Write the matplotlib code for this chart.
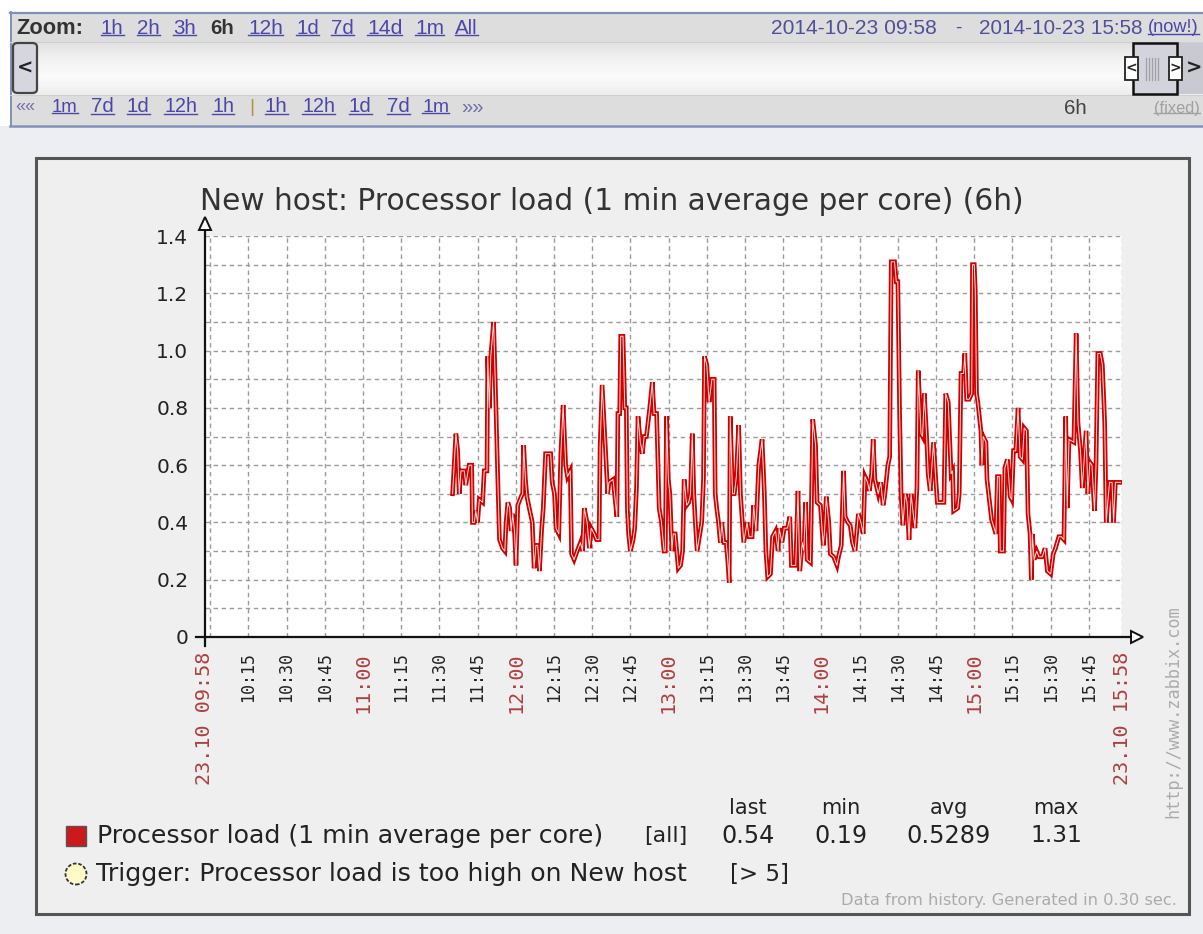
import matplotlib
matplotlib.use('Agg')
import matplotlib.pyplot as plt
from matplotlib.patches import Rectangle, Polygon, Ellipse, FancyBboxPatch
from matplotlib.lines import Line2D
import numpy as np

# ---------------- data ----------------
title = "New host: Processor load (1 min average per core) (6h)"
start_label = "23.10 09:58"
end_label = "23.10 15:58"
start_clock = (9, 58)
period_minutes = 360

# minutes after 09:58 and processor load values
minutes = [97.2, 98.5, 99.2, 99.8, 100.5, 101.8, 102.4, 103.1, 103.7, 104.7, 105.0, 105.7,
           106.3, 107.0, 107.7, 109.0, 109.6, 110.7, 111.0, 111.6, 112.2, 113.3, 114.2, 114.8,
           115.6, 116.8, 117.7, 118.2, 118.9, 119.6, 120.2, 120.8, 121.5, 122.1, 122.8, 124.1,
           124.7, 125.1, 125.8, 126.4, 127.3, 128.5, 129.2, 129.9, 130.6, 131.3, 132.2, 132.8,
           133.7, 135.7, 136.3, 137.2, 137.8, 138.9, 139.7, 140.6, 141.6, 142.3, 143.4, 143.9,
           144.9, 146.1, 147.4, 148.2, 148.9, 150.0, 150.9, 151.6, 152.8, 153.7, 154.7, 155.1,
           155.9, 157.2, 158.1, 158.6, 160.2, 161.7, 162.1, 162.8, 163.2, 164.1, 164.8, 165.4,
           165.8, 166.3, 167.0, 168.1, 168.7, 169.4, 170.0, 170.9, 171.7, 172.4, 173.3, 174.6,
           175.6, 176.3, 177.3, 177.9, 178.3, 179.2, 180.2, 180.7, 181.2, 181.9, 182.5, 183.3,
           183.8, 184.6, 185.2, 185.8, 186.7, 187.5, 188.1, 189.1, 189.9, 190.6, 191.3, 191.9,
           192.5, 193.2, 194.1, 195.0, 195.7, 196.1, 197.0, 197.9, 199.0, 199.9, 200.3, 200.9,
           201.6, 202.3, 202.9, 203.7, 204.6, 205.2, 205.8, 206.2, 207.1, 207.8, 208.6, 209.5,
           210.2, 211.5, 212.8, 213.6, 214.8, 215.4, 216.3, 217.4, 218.7, 219.6, 220.2, 220.9,
           222.0, 222.8, 224.0, 225.0, 225.4, 226.5, 227.4, 228.7, 229.6, 230.2, 231.9, 232.8,
           233.5, 234.5, 235.1, 235.8, 236.4, 237.7, 238.6, 239.7, 240.3, 241.6, 242.7, 243.3,
           243.9, 244.9, 245.5, 246.8, 248.1, 248.7, 249.8, 250.7, 251.3, 252.4, 253.3, 254.2,
           255.2, 255.8, 256.5, 257.5, 258.4, 259.1, 260.1, 260.8, 261.7, 262.3, 263.0, 264.3,
           265.3, 266.2, 266.8, 267.5, 268.1, 268.8, 269.4, 270.7, 271.4, 272.0, 272.7, 273.3,
           274.0, 274.9, 275.6, 276.4, 277.2, 277.8, 278.7, 279.5, 280.0, 281.1, 281.7, 282.4,
           283.3, 283.9, 284.7, 286.0, 286.9, 287.5, 288.8, 290.1, 290.8, 291.8, 292.9, 293.5,
           293.9, 295.5, 296.1, 296.8, 297.8, 298.3, 299.0, 300.0, 301.0, 301.3, 302.0, 302.4,
           302.9, 303.4, 304.6, 305.0, 305.5, 306.6, 307.0, 307.9, 308.8, 309.8, 310.5, 311.1,
           311.8, 312.2, 313.5, 314.0, 315.0, 316.1, 316.7, 317.4, 318.3, 319.2, 320.0, 320.9,
           321.6, 322.5, 323.1, 323.9, 324.4, 324.8, 325.5, 326.5, 327.4, 328.7, 329.8, 330.7,
           332.0, 333.0, 333.9, 335.2, 336.2, 337.2, 337.9, 338.5, 339.2, 341.1, 342.0, 342.7,
           343.7, 344.4, 345.0, 345.9, 346.6, 347.4, 348.2, 349.2, 349.8, 350.5, 351.5, 352.3,
           353.2, 353.8, 354.5, 355.1, 356.1, 356.7, 357.4, 359.5]
load = [0.50, 0.71, 0.65, 0.50, 0.58, 0.58, 0.53, 0.57, 0.60, 0.60, 0.40, 0.40,
        0.44, 0.40, 0.48, 0.47, 0.58, 0.58, 0.98, 0.80, 0.98, 1.10, 0.81, 0.60,
        0.34, 0.31, 0.30, 0.40, 0.47, 0.45, 0.37, 0.43, 0.37, 0.25, 0.46, 0.49,
        0.50, 0.67, 0.55, 0.49, 0.45, 0.40, 0.24, 0.32, 0.32, 0.23, 0.38, 0.45,
        0.64, 0.64, 0.54, 0.50, 0.38, 0.36, 0.64, 0.81, 0.60, 0.56, 0.58, 0.29,
        0.27, 0.30, 0.33, 0.30, 0.45, 0.40, 0.31, 0.38, 0.36, 0.34, 0.34, 0.66,
        0.88, 0.66, 0.50, 0.54, 0.55, 0.42, 0.78, 0.78, 1.05, 1.05, 0.80, 0.80,
        0.45, 0.36, 0.30, 0.34, 0.38, 0.52, 0.77, 0.68, 0.64, 0.70, 0.70, 0.80,
        0.89, 0.78, 0.78, 0.58, 0.45, 0.40, 0.30, 0.30, 0.77, 0.55, 0.50, 0.30,
        0.36, 0.36, 0.30, 0.24, 0.25, 0.30, 0.55, 0.46, 0.47, 0.50, 0.71, 0.50,
        0.40, 0.30, 0.35, 0.40, 0.55, 0.98, 0.95, 0.82, 0.90, 0.90, 0.50, 0.45,
        0.40, 0.33, 0.40, 0.33, 0.33, 0.27, 0.19, 0.77, 0.50, 0.50, 0.56, 0.74,
        0.50, 0.33, 0.40, 0.35, 0.35, 0.46, 0.37, 0.60, 0.69, 0.50, 0.30, 0.21,
        0.22, 0.35, 0.37, 0.30, 0.38, 0.33, 0.38, 0.38, 0.42, 0.25, 0.25, 0.51,
        0.23, 0.33, 0.30, 0.47, 0.27, 0.26, 0.76, 0.67, 0.47, 0.46, 0.32, 0.38,
        0.49, 0.40, 0.29, 0.28, 0.25, 0.28, 0.32, 0.58, 0.42, 0.40, 0.39, 0.33,
        0.30, 0.36, 0.43, 0.40, 0.36, 0.56, 0.54, 0.51, 0.57, 0.69, 0.55, 0.50,
        0.54, 0.46, 0.49, 0.55, 0.60, 0.63, 1.31, 1.31, 1.24, 1.24, 0.78, 0.49,
        0.39, 0.50, 0.47, 0.34, 0.50, 0.45, 0.38, 0.52, 0.93, 0.71, 0.70, 0.85,
        0.70, 0.57, 0.51, 0.68, 0.55, 0.47, 0.47, 0.47, 0.85, 0.82, 0.57, 0.58,
        0.44, 0.45, 0.50, 0.92, 0.92, 0.99, 0.83, 0.83, 0.85, 1.30, 1.30, 1.21,
        0.85, 0.82, 0.72, 0.60, 0.70, 0.68, 0.55, 0.48, 0.41, 0.38, 0.36, 0.56,
        0.56, 0.30, 0.30, 0.59, 0.62, 0.49, 0.48, 0.65, 0.65, 0.80, 0.63, 0.62,
        0.73, 0.72, 0.43, 0.36, 0.20, 0.36, 0.27, 0.30, 0.28, 0.28, 0.31, 0.23,
        0.22, 0.29, 0.31, 0.35, 0.35, 0.34, 0.77, 0.45, 0.69, 0.68, 1.06, 0.75,
        0.65, 0.52, 0.60, 0.72, 0.50, 0.61, 0.60, 0.44, 0.60, 0.99, 0.99, 0.95,
        0.75, 0.40, 0.48, 0.54, 0.54, 0.40, 0.54, 0.54]

y_ticks = [0, 0.2, 0.4, 0.6, 0.8, 1.0, 1.2, 1.4]
y_tick_labels = ["0", "0.2", "0.4", "0.6", "0.8", "1.0", "1.2", "1.4"]
x_tick_labels = ["10:15", "10:30", "10:45", "11:00", "11:15", "11:30", "11:45", "12:00",
                 "12:15", "12:30", "12:45", "13:00", "13:15", "13:30", "13:45", "14:00",
                 "14:15", "14:30", "14:45", "15:00", "15:15", "15:30", "15:45"]

legend_item = "Processor load (1 min average per core)"
legend_func = "[all]"
stat_names = ["last", "min", "avg", "max"]
stat_values = ["0.54", "0.19", "0.5289", "1.31"]
trigger_text = "Trigger: Processor load is too high on New host"
trigger_cond = "[> 5]"
footer = "Data from history. Generated in 0.30 sec."
watermark = "http://www.zabbix.com"

zoom_links = ["1h", "2h", "3h", "6h", "12h", "1d", "7d", "14d", "1m", "All"]
zoom_link_x = [101, 137, 173, 210, 248, 296, 331, 367, 415, 455]
zoom_link_w = [23, 23, 23, 24, 35, 23, 23, 36, 29, 23]
nav_links = ["««", "1m", "7d", "1d", "12h", "1h", "|", "1h", "12h", "1d", "7d", "1m", "»»"]
nav_link_x = [15, 52, 91, 127, 164, 212, 249, 265, 302, 349, 387, 422, 461]
nav_link_w = [20, 26, 23, 23, 33, 22, 3, 23, 33, 23, 23, 27, 22]
date_from = "2014-10-23 09:58"
date_to = "2014-10-23 15:58"

# ---------------- figure ----------------
W, H = 1203, 934
fig = plt.figure(figsize=(W / 100, H / 100), dpi=100)
fig.patch.set_facecolor('#ECEEF1')
renderer = fig.canvas.get_renderer()


def fx(x):
    return x / W


def fy(y):
    return 1 - y / H


def rect(x0, y0, x1, y1, fc, ec='none', lw=0, z=1, **kw):
    r = Rectangle((fx(x0), fy(y1)), (x1 - x0) / W, (y1 - y0) / H, transform=fig.transFigure,
                  facecolor=fc, edgecolor=ec, linewidth=lw, zorder=z, **kw)
    fig.add_artist(r)
    return r


def hline(x0, x1, y, color, lw=1, z=3, **kw):
    fig.add_artist(Line2D([fx(x0), fx(x1)], [fy(y), fy(y)], transform=fig.transFigure,
                          color=color, linewidth=lw, zorder=z, **kw))


def vline(x, y0, y1, color, lw=1, z=3, **kw):
    fig.add_artist(Line2D([fx(x), fx(x)], [fy(y0), fy(y1)], transform=fig.transFigure,
                          color=color, linewidth=lw, zorder=z, **kw))


def put(x, y, s, w=None, size=12, ha='left', va='center', rot=0, z=5, **kw):
    t = fig.text(fx(x), fy(y), s, fontsize=size, ha=ha, va=va, rotation=rot, zorder=z, **kw)
    if w:
        bb = t.get_window_extent(renderer)
        cur = bb.height if rot == 90 else bb.width
        t.set_fontsize(size * w / cur)
    return t


def underline(t, color, lw=1.0):
    bb = t.get_window_extent(renderer)
    yy = bb.y0 + 2.5
    fig.add_artist(Line2D([bb.x0 / W, bb.x1 / W], [yy / H, yy / H], transform=fig.transFigure,
                          color=color, linewidth=lw, zorder=5))


def gradient(x0, y0, x1, y1, colors, z=1):
    axg = fig.add_axes([fx(x0), fy(y1), (x1 - x0) / W, (y1 - y0) / H], zorder=z)
    axg.set_axis_off()
    cols = np.array([matplotlib.colors.to_rgb(c) for c in colors])
    n = 64
    pos = np.linspace(0, 1, len(colors))
    grid = np.linspace(0, 1, n)
    img = np.stack([np.interp(grid, pos, cols[:, k]) for k in range(3)], axis=1)
    axg.imshow(img[:, None, :], aspect='auto', extent=[0, 1, 0, 1], origin='upper')
    axg.set_xlim(0, 1)
    axg.set_ylim(0, 1)
    return axg


# ---------------- toolbar ----------------
rect(0, 0, W, 12, 'white', z=0)
rect(0, 12, 10, 126, 'white', z=0)
rect(10, 12, W, 42, '#DDDDDD', z=1)
gradient(10, 42, W, 95, ['#E2E2E2', '#F3F3F3', '#FBFBFB', '#EDEDED'], z=1)
rect(10, 95, W, 125, '#DDDDDD', z=1)
hline(10, W, 12.5, '#8090B8', lw=1.6, z=3)
hline(10, W, 125.5, '#8090B8', lw=1.8, z=3)
vline(10.5, 12, 126, '#8090B8', lw=1.4, z=3)
hline(10, W, 42, '#CFCFCF', lw=0.8, z=3)
hline(10, W, 95, '#CFCFCF', lw=0.8, z=3)

link_color = '#4A47A8'
tb_font = 'Liberation Sans'
put(16, 28, "Zoom:", w=67, size=14, family=tb_font, weight='bold', color='#333333')
for s, x, w in zip(zoom_links, zoom_link_x, zoom_link_w):
    if s == "6h":
        put(x, 28, s, w=w, size=14, family=tb_font, weight='bold', color='#333333')
    else:
        t = put(x, 28, s, w=w, size=14, family=tb_font, color=link_color)
        underline(t, link_color)
put(771, 28, date_from, w=167, size=14, family=tb_font, color='#50509A')
put(958, 28, "-", size=14, ha='center', family=tb_font, color='#50509A')
put(979, 28, date_to, w=165, size=14, family=tb_font, color='#50509A')
tn = put(1148, 28, "(now!)", w=51, size=14, family=tb_font, color=link_color)
underline(tn, link_color)

for s, x, w in zip(nav_links, nav_link_x, nav_link_w):
    if s in ("««", "»»"):
        put(x, 107, s, w=w, size=12, family=tb_font, color='#7070A8')
    elif s == "|":
        put(x, 107, s, size=14, family=tb_font, color='#B89040')
    else:
        t = put(x, 107, s, w=w, size=14, family=tb_font, color=link_color)
        underline(t, link_color)
put(1075, 108, "6h", w=23, size=14, ha='center', family=tb_font, color='#444444')
tf = put(1154, 108, "(fixed)", w=46, size=14, family=tb_font, color='#A0A0A0')
underline(tf, '#A0A0A0')

# left scroll button
fig.add_artist(FancyBboxPatch((fx(13), fy(93)), 24 / W, 50 / H, boxstyle="round,pad=0,rounding_size=0.004",
                              transform=fig.transFigure, facecolor='#D6D6DE', edgecolor='#444444',
                              linewidth=1.6, zorder=4))
put(25, 68, "<", size=14, ha='center', weight='bold', color='#222222', family='DejaVu Sans', z=6)
# right button & slider handle
rect(1177, 43, W, 94, '#C9C9D2', z=3)
put(1194, 68, ">", size=14, ha='center', weight='bold', color='#222222', family='DejaVu Sans', z=6)
rect(1133, 43, 1177, 94, '#D3D3DC', ec='#111111', lw=1.8, z=4)
for xx in (1146, 1149, 1152, 1155, 1158):
    vline(xx, 58, 80, '#A0A0A8', lw=0.9, z=5)
rect(1125, 57, 1138, 80, 'white', ec='#222222', lw=1.3, z=5)
rect(1169, 57, 1182, 80, 'white', ec='#222222', lw=1.3, z=5)
put(1131.5, 68.5, "<", size=10, ha='center', weight='bold', color='#222222', z=6)
put(1175.5, 68.5, ">", size=10, ha='center', weight='bold', color='#222222', z=6)

# ---------------- graph panel ----------------
rect(36, 158, 1189, 914, '#EFEFEF', ec='#555555', lw=2.2, z=1)

put(200, 202, title, w=822, size=17, color='#333333', family='DejaVu Sans')

ax = fig.add_axes([fx(205), fy(637), 917 / W, 401 / H], zorder=3)
ax.set_facecolor('white')
ax.set_xlim(0, period_minutes)
ax.set_ylim(0, 1.4)
for sp in ax.spines.values():
    sp.set_visible(False)
ax.set_xticks([])
ax.set_yticks(y_ticks)
ax.set_yticklabels(y_tick_labels)
ax.tick_params(axis='y', length=0, pad=12, labelsize=14.5, labelcolor='#222222')

grid_kw = dict(color='#9C9C9C', linewidth=1.0, linestyle=(0, (3.2, 2.6)), zorder=1)
for v in np.arange(1, 15) / 10:
    ax.axhline(v, **grid_kw)


def clock_to_min(s):
    h, m = s.split(':')
    return int(h) * 60 + int(m) - (start_clock[0] * 60 + start_clock[1])


grid_minutes = [clock_to_min("10:00")] + [clock_to_min(s) for s in x_tick_labels] + [period_minutes]
for m in grid_minutes:
    ax.axvline(m, **grid_kw)

ax.plot(minutes, load, color='#D00000', linewidth=3.3, zorder=4, solid_joinstyle='miter')
ax.plot(minutes, load, color='#F9E2DC', linewidth=0.7, zorder=5)

# axes lines with hollow arrows
vline(205, 646, 222, '#111111', lw=1.6, z=6)
hline(196, 1133, 637, '#111111', lw=1.6, z=6)
fig.add_artist(Polygon([(fx(199), fy(230)), (fx(211), fy(230)), (fx(205), fy(217))], closed=True,
                       transform=fig.transFigure, facecolor='white', edgecolor='#111111', lw=1.4, zorder=7))
fig.add_artist(Polygon([(fx(1131), fy(631)), (fx(1131), fy(643)), (fx(1143), fy(637))], closed=True,
                       transform=fig.transFigure, facecolor='white', edgecolor='#111111', lw=1.4, zorder=7))

# x tick labels
red = '#AE4040'


def xpix(m):
    return ax.transData.transform((m, 0))[0]


for s in x_tick_labels:
    m = clock_to_min(s)
    hour = s.endswith(":00")
    fig.text(xpix(m) / W, fy(652), s, rotation=90, ha='center', va='top',
             family='DejaVu Sans Mono', fontsize=14.5 if hour else 12,
             color=red if hour else '#222222', zorder=6)
for s, m in ((start_label, 0), (end_label, period_minutes)):
    fig.text(xpix(m) / W, fy(652), s, rotation=90, ha='center', va='top',
             family='DejaVu Sans Mono', fontsize=14.5, color=red, zorder=6)

# watermark
put(1173, 818, watermark, w=213, size=10, rot=90, ha='center', va='bottom',
    family='DejaVu Sans Mono', color='#ABABAB')

# ---------------- legend ----------------
rect(66, 826, 86, 846, '#CC1A1A', ec='#555555', lw=1.0, z=5)
put(97, 836, legend_item, w=507, size=15, color='#222222')
put(644, 836, legend_func, w=43, size=15, color='#222222')
stat_cx = [748, 841, 949, 1056]
stat_w = [53, 53, 84, 52]
for name, val, cx, w in zip(stat_names, stat_values, stat_cx, stat_w):
    put(cx, 808, name, size=15, ha='center', color='#222222', family='DejaVu Sans')
    put(cx, 836, val, w=w, size=15, ha='center', color='#222222')

fig.add_artist(Ellipse((fx(76), fy(874)), 21 / W, 21 / H, transform=fig.transFigure, facecolor='#FFFBC8',
                       edgecolor='#333333', linewidth=1.3, linestyle=(0, (2, 1)), zorder=5))
put(96, 874, trigger_text, w=592, size=15, color='#222222')
put(730, 874, trigger_cond, w=59, size=15, color='#222222')

put(1177, 901, footer, w=336, size=9, ha='right', color='#ABABAB')

fig.savefig('out.png', dpi=100, facecolor=fig.get_facecolor())
